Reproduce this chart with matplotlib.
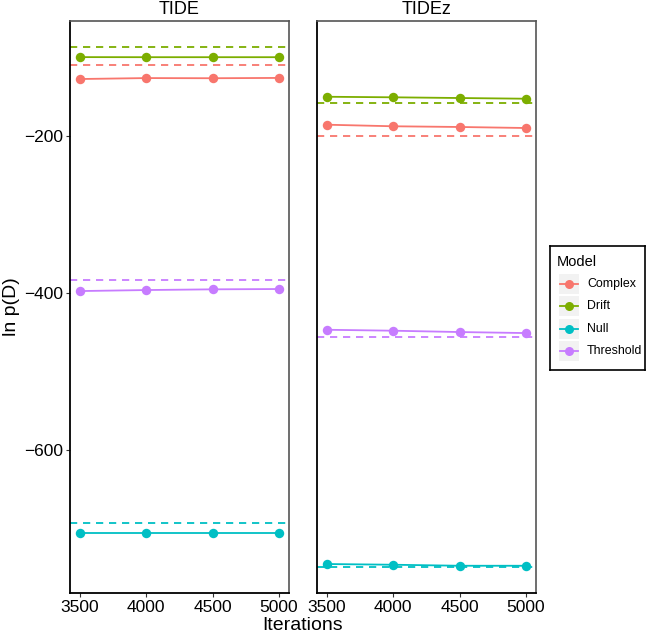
import matplotlib
matplotlib.use("Agg")
import matplotlib.pyplot as plt
from matplotlib.patches import Rectangle
from matplotlib.lines import Line2D

plt.rcParams['font.family'] = ['Liberation Sans', 'DejaVu Sans']

iterations = [3500, 4000, 4500, 5000]
models = ["Complex", "Drift", "Null", "Threshold"]
colors = {"Complex": "#F8766D", "Drift": "#7CAE00", "Null": "#00BFC4", "Threshold": "#C77CFF"}

# TIDE panel
tide_complex = [-127.4, -126.2, -126.4, -126.0]
tide_drift = [-99.5, -99.6, -99.6, -99.6]
tide_null = [-705.3, -705.3, -705.3, -705.3]
tide_threshold = [-397.5, -396.2, -395.3, -394.9]
tide_ref = {"Complex": -109.6, "Drift": -86.6, "Null": -693.4, "Threshold": -383.4}

# TIDEz panel
tidez_complex = [-185.6, -187.6, -188.5, -189.8]
tidez_drift = [-150.0, -150.7, -151.6, -152.5]
tidez_null = [-745.2, -746.1, -747.4, -747.4]
tidez_threshold = [-446.8, -448.0, -449.7, -451.0]
tidez_ref = {"Complex": -200.0, "Drift": -158.3, "Null": -749.0, "Threshold": -456.0}

panels = [
    ("TIDE", {"Complex": tide_complex, "Drift": tide_drift, "Null": tide_null, "Threshold": tide_threshold}, tide_ref),
    ("TIDEz", {"Complex": tidez_complex, "Drift": tidez_drift, "Null": tidez_null, "Threshold": tidez_threshold}, tidez_ref),
]

W, H = 648, 636
fig = plt.figure(figsize=(W / 100, H / 100), dpi=100)

ymin, ymax = -782.1, -53.5
xmin, xmax = 3425, 5075

lefts = [70, 317]
pw = 219
top, bottom = 21, 593
axes = []
for i, (name, series, refs) in enumerate(panels):
    ax = fig.add_axes([lefts[i] / W, 1 - bottom / H, pw / W, (bottom - top) / H])
    axes.append(ax)
    for m in models:
        c = colors[m]
        ax.axhline(refs[m], color=c, lw=1.3, dashes=(4, 3.2), zorder=2)
        ax.plot(iterations, series[m], color=c, lw=1.3, marker='o', ms=6.8,
                markeredgewidth=0, zorder=3)
    ax.set_xlim(xmin, xmax)
    ax.set_ylim(ymin, ymax)
    ax.set_xticks([3500, 4000, 4500, 5000])
    ax.set_yticks([-200, -400, -600])
    ax.tick_params(axis='both', length=3, width=0.8, color='#333333',
                   labelsize=12.5, labelcolor='black', pad=2)
    for s in ['top', 'right']:
        ax.spines[s].set_color('#555555')
        ax.spines[s].set_linewidth(1.2)
    for s in ['left', 'bottom']:
        ax.spines[s].set_color('black')
        ax.spines[s].set_linewidth(1.3)
    ax.set_title(name, fontsize=13, pad=5)
    if i == 1:
        ax.tick_params(axis='y', left=False, labelleft=False)

fig.text((70 + 536) / 2 / W, 1 - 626 / H, "Iterations", ha='center', va='center', fontsize=14)
fig.text(12 / W, 1 - 307 / H, "ln p(D)", ha='center', va='center', rotation=90, fontsize=14)

# legend
lx0, lx1, ly0, ly1 = 550, 645, 246, 370
lax = fig.add_axes([lx0 / W, 1 - ly1 / H, (lx1 - lx0) / W, (ly1 - ly0) / H])
lax.set_xlim(lx0, lx1)
lax.set_ylim(ly1, ly0)
lax.set_xticks([])
lax.set_yticks([])
for s in lax.spines.values():
    s.set_color('black')
    s.set_linewidth(1.2)
lax.text(557, 262, "Model", fontsize=10.5, va='center', ha='left')
key_ys = [284, 306, 329, 351]
for m, ky in zip(models, key_ys):
    lax.add_patch(Rectangle((559, ky - 10), 20, 20, facecolor='#F2F2F2', edgecolor='none'))
    lax.add_line(Line2D([560, 578], [ky, ky], color=colors[m], lw=1.3))
    lax.plot([569], [ky], marker='o', ms=6.5, color=colors[m], markeredgewidth=0)
    lax.text(587, ky, m, fontsize=8.9, va='center', ha='left')

fig.savefig("out.png", dpi=100)
